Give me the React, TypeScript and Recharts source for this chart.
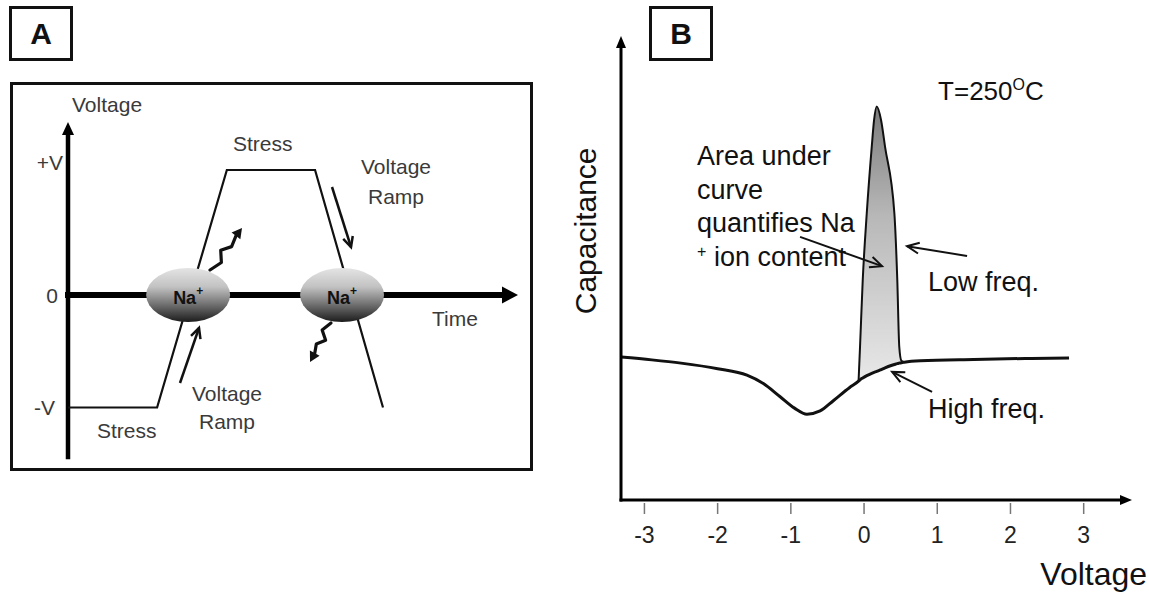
import React from "react";
import {
  LineChart,
  ComposedChart,
  Line,
  Area,
  XAxis,
  YAxis,
  ReferenceLine,
  ReferenceDot,
} from "recharts";

const FONT = '"Liberation Sans", Arial, Helvetica, sans-serif';

// ---- Panel A: bias-temperature stress waveform (schematic) ----
const waveTime = [0, 1.98, 3.53, 5.49, 7.0];
const waveVolt = [-0.9, -0.9, 1, 1, -0.9];
const voltTicksA = [-0.9, 0, 1];
const voltLabelsA = ["-V", "0", "+V"];
const ionTimes = [2.67, 6.09];

// ---- Panel B: C-V curves (low freq. peak over high freq. baseline) ----
const biasB = [
  -3.32, -2.9, -2.5, -2.0, -1.6, -1.375, -1.15, -0.95, -0.78, -0.6, -0.42, -0.2,
  -0.075, -0.055, -0.018, 0.037, 0.105, 0.137, 0.173, 0.232, 0.287, 0.414, 0.454,
  0.481, 0.51, 0.55, 0.77, 1.5, 2.2, 2.8,
];
const highFreq = [
  30.8, 30.2, 29.5, 28.3, 26.9, 25.1, 22.3, 19.8, 18.5, 19.2, 21.4, 24.2,
  25.6, 25.9, 26.3, 26.8, 27.3, 27.5, 27.7, 28.1, 28.5, 29.2, 29.4,
  29.5, 29.6, 29.7, 30.0, 30.3, 30.5, 30.6,
];
const lowFreq: (number | null)[] = [
  null, null, null, null, null, null, null, null, null, null, null, null,
  25.6, 33.0, 47.4, 61.8, 76.1, 81.9, 84.8, 81.9, 76.1, 61.8, 47.4,
  33.0, 30.0, 29.7, null, null, null, null,
];
const biasTicks = [-3, -2, -1, 0, 1, 2, 3];

const waveData = waveTime.map((t, i) => ({ t, v: waveVolt[i] }));
const cvData = biasB.map((v, i) => ({
  v,
  hf: highFreq[i],
  lf: lowFreq[i],
  band: lowFreq[i] == null ? null : [highFreq[i], lowFreq[i]],
}));

// ---- arrow shapes for ReferenceLine segments ----
function unit(p: any) {
  const L = Math.hypot(p.x2 - p.x1, p.y2 - p.y1) || 1;
  return { L, ux: (p.x2 - p.x1) / L, uy: (p.y2 - p.y1) / L };
}

function filledArrow(width: number, len: number, half: number) {
  return (p: any) => {
    const { ux, uy } = unit(p);
    const bx = p.x2 - ux * len;
    const by = p.y2 - uy * len;
    return (
      <g>
        <line x1={p.x1} y1={p.y1} x2={bx + ux} y2={by + uy} stroke="#000" strokeWidth={width} strokeLinecap="square" />
        <polygon
          points={`${p.x2},${p.y2} ${bx - uy * half},${by + ux * half} ${bx + uy * half},${by - ux * half}`}
          fill="#000"
        />
      </g>
    );
  };
}

function openArrow(width: number, len: number, half: number) {
  return (p: any) => {
    const { ux, uy } = unit(p);
    const bx = p.x2 - ux * len;
    const by = p.y2 - uy * len;
    return (
      <g stroke="#111" strokeWidth={width} fill="none">
        <line x1={p.x1} y1={p.y1} x2={p.x2} y2={p.y2} />
        <polyline points={`${bx - uy * half},${by + ux * half} ${p.x2},${p.y2} ${bx + uy * half},${by - ux * half}`} />
      </g>
    );
  };
}

function wavyArrow(width: number, len: number, half: number) {
  const profile = [
    [0, 0],
    [0.3, 4.5],
    [0.52, -3.5],
    [0.74, 3],
    [1, 0],
  ];
  return (p: any) => {
    const { L, ux, uy } = unit(p);
    const shaft = L - len;
    const pts = profile
      .map(([s, o]) => `${p.x1 + ux * s * shaft - uy * o},${p.y1 + uy * s * shaft + ux * o}`)
      .join(" ");
    const bx = p.x2 - ux * len;
    const by = p.y2 - uy * len;
    return (
      <g>
        <polyline points={pts} fill="none" stroke="#111" strokeWidth={width} strokeLinejoin="round" strokeLinecap="round" />
        <polygon
          points={`${p.x2},${p.y2} ${bx - uy * half},${by + ux * half} ${bx + uy * half},${by - ux * half}`}
          fill="#111"
        />
      </g>
    );
  };
}

function arrow(key: string, from: [number, number], to: [number, number], shape: any) {
  return (
    <ReferenceLine
      key={key}
      segment={[
        { x: from[0], y: from[1] },
        { x: to[0], y: to[1] },
      ]}
      ifOverflow="visible"
      shape={shape}
    />
  );
}

type NoteOpts = { size: number; anchor?: "start" | "middle" | "end"; color?: string; rotate?: number };

function note(key: string, x: number, y: number, content: React.ReactNode, o: NoteOpts) {
  return (
    <ReferenceDot
      key={key}
      x={x}
      y={y}
      r={0}
      ifOverflow="visible"
      shape={(p: any) => (
        <text
          x={p.cx}
          y={p.cy}
          fontSize={o.size}
          fontFamily={FONT}
          fill={o.color ?? "#111"}
          textAnchor={o.anchor ?? "start"}
          dominantBaseline="central"
          transform={o.rotate ? `rotate(${o.rotate} ${p.cx} ${p.cy})` : undefined}
        >
          {content}
        </text>
      )}
    />
  );
}

const NaIon = (p: any) => (
  <g>
    <ellipse cx={p.cx} cy={p.cy} rx={42} ry={27} fill="url(#naGrad)" />
    <text
      x={p.cx}
      y={p.cy + 3}
      textAnchor="middle"
      dominantBaseline="central"
      fontFamily={FONT}
      fontWeight="bold"
      fontSize={18}
      fill="#111"
    >
      Na<tspan fontSize={12} dy={-7}>+</tspan>
    </text>
  </g>
);

const tickShiftA: Record<string, [number, number]> = { "+V": [-5, -8], "0": [-10, 0], "-V": [-13, 0] };

const VoltTickA = (p: any) => {
  const label = voltLabelsA[voltTicksA.indexOf(p.payload.value)] ?? "";
  const [dx, dy] = tickShiftA[label] ?? [0, 0];
  return (
    <text x={p.x + dx} y={p.y + dy} textAnchor="end" dominantBaseline="central" fontFamily={FONT} fontSize={21} fill="#3a3a3a">
      {label}
    </text>
  );
};

const BiasTick = (p: any) => (
  <g>
    <line x1={p.x} x2={p.x} y1={p.y + 3} y2={p.y + 14} stroke="#777" strokeWidth={1.5} />
    <text x={p.x} y={p.y + 35} textAnchor="middle" dominantBaseline="central" fontFamily={FONT} fontSize={23} fill="#222">
      {p.payload.value}
    </text>
  </g>
);

const boxStyle = (left: number, top: number, w: number, h: number): React.CSSProperties => ({
  position: "absolute",
  left,
  top,
  width: w,
  height: h,
  boxSizing: "border-box",
  border: "3px solid #111",
});

const letterStyle: React.CSSProperties = {
  display: "flex",
  alignItems: "center",
  justifyContent: "center",
  fontFamily: FONT,
  fontWeight: "bold",
  fontSize: 30,
  color: "#111",
};

const textA = { size: 21, color: "#3a3a3a" };
const textB = { size: 27, color: "#111" };

export default function App() {
  return (
    <div style={{ position: "absolute", left: 0, top: 0, width: 1149, height: 597, overflow: "hidden", background: "#fff" }}>
      <svg width={0} height={0} style={{ position: "absolute" }}>
        <defs>
          <linearGradient id="naGrad" x1="0" y1="0" x2="0" y2="1">
            <stop offset="0" stopColor="#e4e4e4" />
            <stop offset="0.35" stopColor="#c2c2c2" />
            <stop offset="0.7" stopColor="#6a6a6a" />
            <stop offset="1" stopColor="#1c1c1c" />
          </linearGradient>
          <linearGradient id="peakGrad" x1="0" y1="0" x2="0" y2="1">
            <stop offset="0" stopColor="#7c7c7c" />
            <stop offset="0.4" stopColor="#b8b8b8" />
            <stop offset="1" stopColor="#e8e8e8" />
          </linearGradient>
        </defs>
      </svg>

      {/* panel letters and frame */}
      <div style={{ ...boxStyle(9, 6, 64, 55), ...letterStyle }}>A</div>
      <div style={{ ...boxStyle(649, 6, 64, 55), ...letterStyle }}>B</div>
      <div style={boxStyle(10, 82, 523, 389)} />

      {/* Panel A */}
      <div style={{ position: "absolute", left: 0, top: 0 }}>
        <LineChart width={560} height={480} data={waveData} margin={{ top: 122, right: 42, bottom: 23, left: 67 }}>
          <XAxis dataKey="t" type="number" domain={[0, 10]} allowDataOverflow hide />
          <YAxis
            type="number"
            domain={[-1.296, 1.384]}
            allowDataOverflow
            width={1}
            ticks={voltTicksA}
            interval={0}
            axisLine={false}
            tickLine={false}
            tickSize={0}
            tickMargin={0}
            tick={VoltTickA}
          />
          {arrow("yAxisA", [0, -1.296], [0, 1.384], filledArrow(4.5, 13, 6))}
          {arrow("timeAxis", [0, 0], [10, 0], filledArrow(6, 16, 8.5))}
          <Line dataKey="v" type="linear" stroke="#111" strokeWidth={2.2} dot={false} activeDot={false} isAnimationActive={false} />
          {ionTimes.map((t, i) => (
            <ReferenceDot key={`na${i}`} x={t} y={0} r={0} ifOverflow="visible" shape={NaIon} />
          ))}
          {arrow("rampUp", [2.489, -0.704], [2.911, -0.264], openArrow(2.5, 10, 5))}
          {arrow("rampDown", [5.867, 0.864], [6.289, 0.384], openArrow(2.5, 10, 5))}
          {arrow("ionOut", [3.156, 0.2], [3.867, 0.536], wavyArrow(3.2, 10, 5.5))}
          {arrow("ionIn", [5.844, -0.224], [5.378, -0.536], wavyArrow(3.2, 10, 5.5))}
          {note("vA", 0.089, 1.528, "Voltage", textA)}
          {note("stressHi", 3.667, 1.212, "Stress", textA)}
          {note("stressLo", 0.644, -1.08, "Stress", textA)}
          {note("rampLo1", 3.533, -0.788, "Voltage", { ...textA, anchor: "middle" })}
          {note("rampLo2", 3.533, -1.012, "Ramp", { ...textA, anchor: "middle" })}
          {note("rampHi1", 7.289, 1.028, "Voltage", { ...textA, anchor: "middle" })}
          {note("rampHi2", 7.289, 0.792, "Ramp", { ...textA, anchor: "middle" })}
          {note("time", 8.089, -0.188, "Time", textA)}
        </LineChart>
      </div>

      {/* Panel B */}
      <div style={{ position: "absolute", left: 560, top: 0 }}>
        <ComposedChart width={589} height={597} data={cvData} margin={{ top: 36, right: 17, bottom: 96, left: 61 }}>
          <XAxis
            dataKey="v"
            type="number"
            domain={[-3.32, 3.66]}
            allowDataOverflow
            ticks={biasTicks}
            interval={0}
            height={1}
            axisLine={false}
            tickLine={false}
            tickSize={0}
            tickMargin={0}
            tick={BiasTick}
          />
          <YAxis type="number" domain={[0, 100]} allowDataOverflow hide width={0} />
          <Area
            dataKey="band"
            type="monotone"
            stroke="none"
            fill="url(#peakGrad)"
            fillOpacity={1}
            dot={false}
            activeDot={false}
            isAnimationActive={false}
          />
          <Line dataKey="lf" type="monotone" stroke="#111" strokeWidth={2} dot={false} activeDot={false} isAnimationActive={false} />
          <Line dataKey="hf" type="monotone" stroke="#111" strokeWidth={3} dot={false} activeDot={false} isAnimationActive={false} />
          {arrow("xAxisB", [-3.32, 0], [3.66, 0], filledArrow(3, 12, 5))}
          {arrow("yAxisB", [-3.32, 0], [-3.32, 100], filledArrow(3, 12, 5))}
          {arrow("areaArrow", [-0.874, 56.7], [0.246, 50.4], openArrow(2, 12, 5.5))}
          {arrow("lowArrow", [1.407, 52.6], [0.587, 54.7], openArrow(2, 12, 5.5))}
          {arrow("highArrow", [0.929, 23.3], [0.383, 27.6], openArrow(2, 12, 5.5))}
          {note("area1", -2.281, 74.1, "Area under", textB)}
          {note("area2", -2.281, 66.9, "curve", textB)}
          {note("area3", -2.281, 59.7, "quantifies Na", textB)}
          {note(
            "area4",
            -2.281,
            52.4,
            <>
              <tspan fontSize={16} dy={-6}>+</tspan>
              <tspan dy={6}> ion content</tspan>
            </>,
            textB
          )}
          {note("low", 0.874, 46.9, "Low freq.", textB)}
          {note("high", 0.874, 19.6, "High freq.", textB)}
          {note(
            "temp",
            1.011,
            88.1,
            <>
              T=250<tspan fontSize={16} dy={-7}>O</tspan>
              <tspan dy={7}>C</tspan>
            </>,
            { size: 26, color: "#111" }
          )}
          {note("cap", -3.81, 58.0, "Capacitance", { size: 30, color: "#111", anchor: "middle", rotate: -90 })}
          {note("voltB", 3.866, -15.9, "Voltage", { size: 32, color: "#111", anchor: "end" })}
        </ComposedChart>
      </div>
    </div>
  );
}
